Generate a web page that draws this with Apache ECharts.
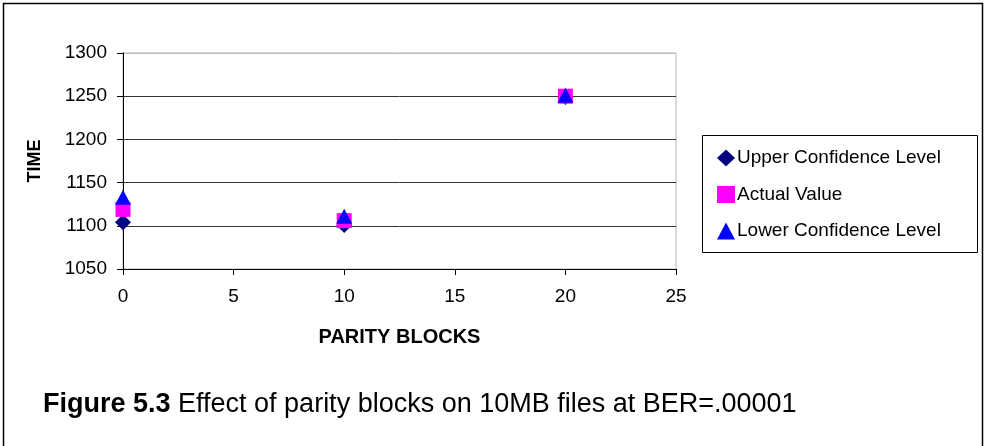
<!DOCTYPE html>
<html>
<head>
<meta charset="utf-8">
<script src="https://cdn.jsdelivr.net/npm/echarts@6/dist/echarts.min.js"></script>
<style>
html,body{margin:0;padding:0;background:#fff;}
#chart{width:987px;height:446px;}
</style>
</head>
<body>
<div id="chart"></div>
<script>
var parityBlocks = [0, 10, 20];
var upperConfidence = [1104, 1101, 1249];
var actualValue = [1119, 1106, 1250];
var lowerConfidence = [1133, 1111, 1251];
var xTicks = [0, 5, 10, 15, 20, 25];
var yTicks = [1050, 1100, 1150, 1200, 1250, 1300];
var seriesNames = ['Upper Confidence Level', 'Actual Value', 'Lower Confidence Level'];
var captionBold = 'Figure 5.3';
var captionRest = ' Effect of parity blocks on 10MB files at BER=.00001';

function pairs(xs, ys) { return xs.map(function (x, i) { return [x, ys[i]]; }); }

var FONT = 'Liberation Sans, Arial, sans-serif';
var chart = echarts.init(document.getElementById('chart'));
chart.setOption({
  animation: false,
  backgroundColor: '#fff',
  textStyle: { fontFamily: FONT },
  grid: {
    left: 123, right: 311, top: 53, bottom: 177,
    show: true, borderColor: '#b8b8b8', borderWidth: 1, backgroundColor: 'transparent'
  },
  title: {
    left: 38, top: 386,
    text: '{b|' + captionBold + '}' + captionRest,
    textStyle: {
      fontFamily: FONT, fontSize: 27, fontWeight: 'normal', color: '#000',
      rich: { b: { fontFamily: FONT, fontSize: 27, fontWeight: 'bold', color: '#000' } }
    }
  },
  legend: {
    orient: 'vertical', left: 702, top: 135,
    padding: [13, 10, 11, 15],
    itemGap: 16.5,
    itemWidth: 18, itemHeight: 17,
    data: seriesNames,
    textStyle: { fontFamily: FONT, fontSize: 19, color: '#000', lineHeight: 20, padding: [0, 0, 0, -3] }
  },
  graphic: [
    { type: 'rect', shape: { x: 702.5, y: 135.5, width: 275, height: 117 },
      style: { fill: 'none', stroke: '#000', lineWidth: 1 }, silent: true, z: 100 },
    { type: 'polyline', shape: { points: [[3.5, 470], [3.5, 3.5], [982.5, 3.5], [982.5, 470]] },
      style: { fill: 'none', stroke: '#000', lineWidth: 1.5 }, silent: true, z: 100 }
  ],
  xAxis: {
    type: 'value', min: 0, max: 25, interval: 5,
    name: 'PARITY BLOCKS', nameLocation: 'middle', nameGap: 58,
    nameTextStyle: { fontFamily: FONT, fontSize: 20, fontWeight: 'bold', color: '#000' },
    axisLine: { show: true, onZero: false, lineStyle: { color: '#000', width: 1 } },
    axisTick: { show: true, inside: false, length: 6, lineStyle: { color: '#000' } },
    axisLabel: { fontFamily: FONT, fontSize: 19, color: '#000', margin: 18,
      formatter: function (v) { return xTicks.indexOf(v) >= 0 ? String(v) : ''; } },
    splitLine: { show: false }
  },
  yAxis: {
    type: 'value', min: 1050, max: 1300, interval: 50,
    name: 'TIME', nameLocation: 'middle', nameGap: 79,
    nameTextStyle: { fontFamily: FONT, fontSize: 18, fontWeight: 'bold', color: '#000' },
    axisLine: { show: true, onZero: false, lineStyle: { color: '#000', width: 1 } },
    axisTick: { show: true, inside: false, length: 6, lineStyle: { color: '#000' } },
    axisLabel: { fontFamily: FONT, fontSize: 19, color: '#000', margin: 16,
      formatter: function (v) { return yTicks.indexOf(v) >= 0 ? String(v) : ''; } },
    splitLine: { show: true, lineStyle: { color: ['#333', '#333', '#333', '#333', '#333', '#b8b8b8'], width: 1 } }
  },
  series: [
    { name: seriesNames[0], type: 'scatter', symbol: 'diamond', symbolSize: [16, 16],
      itemStyle: { color: '#000080', opacity: 1 }, data: pairs(parityBlocks, upperConfidence), z: 2 },
    { name: seriesNames[1], type: 'scatter', symbol: 'rect', symbolSize: [15, 15],
      itemStyle: { color: '#ff00ff', opacity: 1 }, data: pairs(parityBlocks, actualValue), z: 3 },
    { name: seriesNames[2], type: 'scatter', symbol: 'triangle', symbolSize: [16, 15],
      itemStyle: { color: '#0000ff', opacity: 1 }, data: pairs(parityBlocks, lowerConfidence), z: 4 }
  ]
});
</script>
</body>
</html>
